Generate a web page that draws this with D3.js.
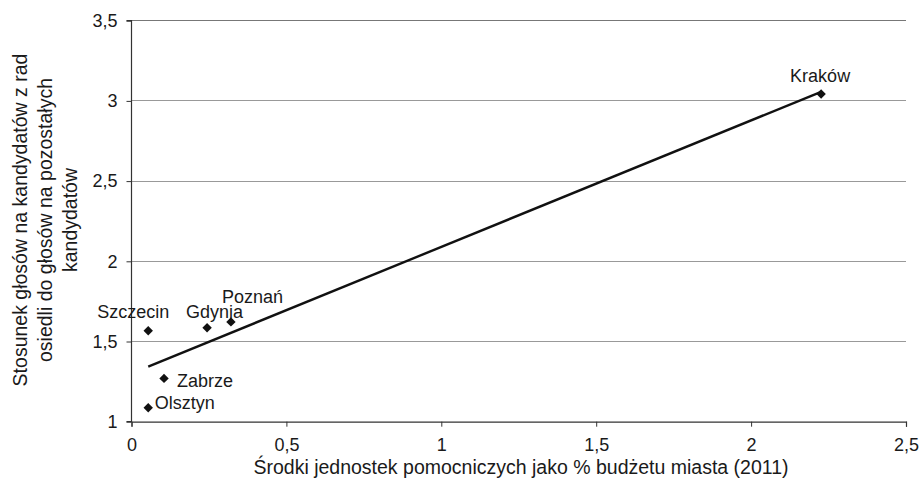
<!DOCTYPE html>
<html><head><meta charset="utf-8">
<script src="https://cdn.jsdelivr.net/npm/d3@7/dist/d3.min.js"></script>
<style>body{margin:0;background:#fff}svg{display:block}text{font-family:"Liberation Sans",Arial,sans-serif;fill:#1a1a1a}</style>
</head><body><svg id="c" width="921" height="495"></svg>
<script>
const cities = ["Szczecin","Gdynia","Poznań","Zabrze","Olsztyn","Kraków"];
const xValues = [0.054,0.244,0.321,0.105,0.054,2.226];
const yValues = [1.567,1.586,1.622,1.270,1.087,3.043];
const xTicks = [0,0.5,1,1.5,2,2.5];
const yTicks = [1,1.5,2,2.5,3,3.5];
const xTitle = "Środki jednostek pomocniczych jako % budżetu miasta (2011)";
const yTitle = ["Stosunek głosów na kandydatów z rad","osiedli do głosów na pozostałych","kandydatów"];
const labelOffsets = {"Szczecin":[-51,-19],"Gdynia":[-21,-16],"Poznań":[-9,-25],"Zabrze":[13,2],"Olsztyn":[6.5,-5],"Kraków":[-31,-18]};

const fmt = v => String(v).replace(".", ",");
const svg = d3.select("#c");
const x = d3.scaleLinear().domain([0,2.5]).range([131.5,906]);
const y = d3.scaleLinear().domain([1,3.5]).range([421.7,20.7]);

// gridlines
svg.append("g").selectAll("line").data(yTicks.filter(d=>d>1)).join("line")
  .attr("x1",x(0)).attr("x2",x(2.5)).attr("y1",d=>y(d)).attr("y2",d=>y(d))
  .attr("stroke",d=>d===3.5?"#777":"#999").attr("stroke-width",1).attr("shape-rendering","crispEdges");

// axes
const xAxis = d3.axisBottom(x).tickValues(xTicks).tickFormat(fmt).tickSize(5).tickPadding(12);
const gx = svg.append("g").attr("transform",`translate(0,${y(1)})`).call(xAxis);
const yAxis = d3.axisLeft(y).tickValues(yTicks).tickFormat(fmt).tickSize(5).tickPadding(9);
const gy = svg.append("g").attr("transform",`translate(${x(0)},0)`).call(yAxis);
[gx,gy].forEach(g=>{
  g.select(".domain").attr("stroke","#333").attr("stroke-width",1.2);
  g.selectAll(".tick line").attr("stroke","#333");
  g.selectAll(".tick text").style("font-family","Liberation Sans, Arial, sans-serif").style("font-size","18px").attr("fill","#1a1a1a");
});
gy.select(".domain").attr("d",`M-5,${y(3.5)}H0V${y(1)}H-5`);

// regression line (least squares fit of the data)
const n = xValues.length;
const mx = d3.mean(xValues), my = d3.mean(yValues);
let sxy=0,sxx=0;
for(let i=0;i<n;i++){sxy+=(xValues[i]-mx)*(yValues[i]-my);sxx+=(xValues[i]-mx)**2;}
const b = sxy/sxx, a = my-b*mx;
const x0 = d3.min(xValues), x1 = d3.max(xValues);
svg.append("line").attr("x1",x(x0)).attr("y1",y(a+b*x0)).attr("x2",x(x1)).attr("y2",y(a+b*x1))
  .attr("stroke","#111").attr("stroke-width",2.4);

// points
const pts = cities.map((c,i)=>({c,x:xValues[i],y:yValues[i]}));
svg.append("g").selectAll("path").data(pts).join("path")
  .attr("d",d3.symbol().type(d3.symbolSquare).size(44))
  .attr("transform",d=>`translate(${x(d.x)},${y(d.y)}) rotate(45)`).attr("fill","#111");

// labels
svg.append("g").selectAll("text").data(pts).join("text")
  .attr("x",d=>x(d.x)+labelOffsets[d.c][0]).attr("y",d=>y(d.y)+labelOffsets[d.c][1])
  .attr("dy","0.35em").style("font-size","18px").text(d=>d.c);

// titles
svg.append("text").attr("x",521).attr("y",467).attr("dy","0.35em").attr("text-anchor","middle").style("font-size","19.5px").text(xTitle);
const yt = svg.append("text").attr("transform","translate(0,220) rotate(-90)").attr("text-anchor","middle").style("font-size","19.5px");
yTitle.forEach((t,i)=>yt.append("tspan").attr("x",0).attr("y",27+i*25).text(t));
</script></body></html>
